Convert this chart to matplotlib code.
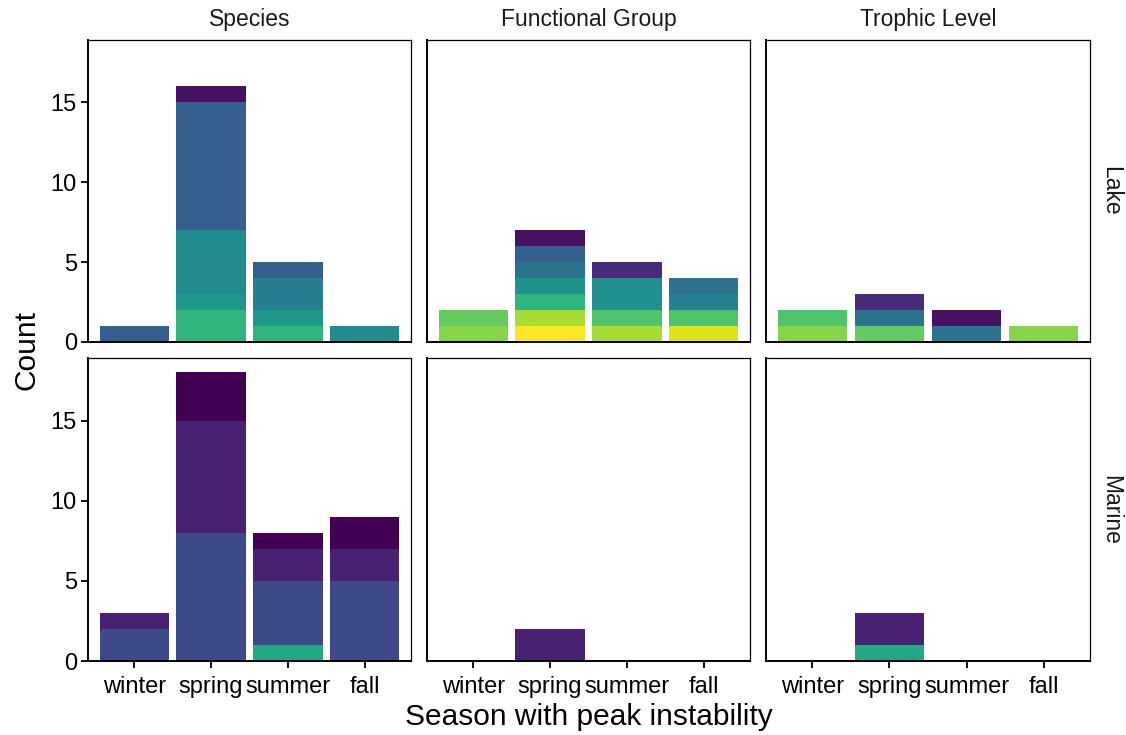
import matplotlib
matplotlib.use("Agg")
import matplotlib.pyplot as plt
import numpy as np

plt.rcParams['font.family'] = ['Liberation Sans', 'DejaVu Sans']

seasons = ['winter', 'spring', 'summer', 'fall']
levels = ['Species', 'Functional Group', 'Trophic Level']
habitats = ['Lake', 'Marine']

# stacked segments per season, bottom to top: counts and the fill value (0-1 on viridis)
lake_species_counts = [[1], [2, 1, 4, 8, 1], [1, 1, 2, 1], [1]]
lake_species_fill = [[0.30], [0.65, 0.53, 0.48, 0.30, 0.04], [0.65, 0.53, 0.42, 0.30], [0.48]]

lake_func_counts = [[1, 1], [1, 1, 1, 1, 1, 1, 1], [1, 1, 2, 1], [1, 1, 1, 1]]
lake_func_fill = [[0.82, 0.76], [1.0, 0.87, 0.65, 0.50, 0.38, 0.30, 0.04],
                  [0.87, 0.72, 0.50, 0.12], [0.95, 0.72, 0.44, 0.38]]

lake_troph_counts = [[1, 1], [1, 1, 1], [1, 1], [1]]
lake_troph_fill = [[0.82, 0.72], [0.76, 0.38, 0.12], [0.38, 0.04], [0.82]]

marine_species_counts = [[2, 1], [8, 7, 3], [1, 4, 2, 1], [5, 2, 2]]
marine_species_fill = [[0.22, 0.09], [0.22, 0.09, 0.0], [0.60, 0.22, 0.09, 0.0], [0.22, 0.09, 0.0]]

marine_func_counts = [[], [2], [], []]
marine_func_fill = [[], [0.09], [], []]

marine_troph_counts = [[], [1, 2], [], []]
marine_troph_fill = [[], [0.60, 0.09], [], []]

panels = {
    ('Lake', 'Species'): (lake_species_counts, lake_species_fill),
    ('Lake', 'Functional Group'): (lake_func_counts, lake_func_fill),
    ('Lake', 'Trophic Level'): (lake_troph_counts, lake_troph_fill),
    ('Marine', 'Species'): (marine_species_counts, marine_species_fill),
    ('Marine', 'Functional Group'): (marine_func_counts, marine_func_fill),
    ('Marine', 'Trophic Level'): (marine_troph_counts, marine_troph_fill),
}

W, H = 1126, 735
fig = plt.figure(figsize=(W / 100, H / 100), dpi=100)
cmap = plt.get_cmap('viridis')

col_x = [(88, 411), (427, 750), (766, 1090)]
row_y = [(40, 342), (358, 661)]

x = np.arange(1, len(seasons) + 1)
for r, hab in enumerate(habitats):
    for c, lev in enumerate(levels):
        x0, x1 = col_x[c]
        y0, y1 = row_y[r]
        ax = fig.add_axes([x0 / W, 1 - y1 / H, (x1 - x0) / W, (y1 - y0) / H])
        counts, fills = panels[(hab, lev)]
        for i in range(len(seasons)):
            bottom = 0
            for n, f in zip(counts[i], fills[i]):
                ax.bar(x[i], n, width=0.9, bottom=bottom, color=cmap(f), linewidth=0)
                bottom += n
        ax.set_xlim(0.4, 4.6)
        ax.set_ylim(0, 18.9)
        ax.set_yticks([0, 5, 10, 15])
        ax.set_xticks(x)
        ax.set_xticklabels(seasons)
        for s in ['left', 'bottom']:
            ax.spines[s].set_linewidth(1.4)
        for s in ['top', 'right']:
            ax.spines[s].set_linewidth(0.9)
        ax.tick_params(axis='both', direction='out', length=5, width=1.3,
                       labelsize=17, colors='black')
        ax.tick_params(axis='x', pad=6)
        ax.tick_params(axis='y', pad=3)
        if c != 0:
            ax.tick_params(axis='y', left=False, labelleft=False)
        if r != 1:
            ax.tick_params(axis='x', bottom=False, labelbottom=False)
        if r == 0:
            ax.set_title(lev, fontsize=16.5, color='#1a1a1a', pad=10)
        if c == 2:
            ax.text(1.028, 0.5, hab, transform=ax.transAxes, rotation=-90,
                    ha='left', va='center', fontsize=16.5, color='#1a1a1a')

fig.text(26 / W, 1 - 350 / H, 'Count', rotation=90, ha='center', va='center', fontsize=21.5)
fig.text(589 / W, 1 - 717 / H, 'Season with peak instability', ha='center', va='center', fontsize=21.5)

fig.savefig('out.png', dpi=100)
